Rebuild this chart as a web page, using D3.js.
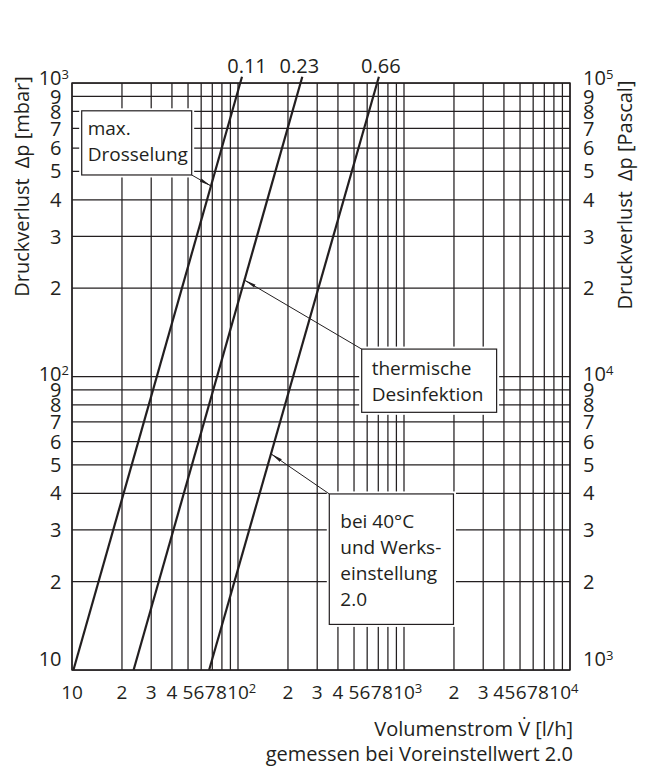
<!DOCTYPE html>
<html><head><meta charset="utf-8">
<script src="https://cdn.jsdelivr.net/npm/d3@7"></script>
<style>
html,body{margin:0;padding:0;background:#fff}
svg{display:block}
text{font-family:"Open Sans",sans-serif;fill:#231f20}
</style>
</head><body>
<svg id="chart" width="649" height="767"></svg>
<script>
// ---------- data ----------
const kvLabels = ["0.11", "0.23", "0.66"];
const flowAtLowDp = [10.2, 23.5, 67];      // l/h at 10 mbar
const flowAtHighDp = [105.7, 244, 706];    // l/h at 1050 mbar
const dpEnds = [10, 1050];                 // mbar

const xTickValues = [10,20,30,40,50,60,70,80,100,200,300,400,500,600,700,800,1000,2000,3000,4000,5000,6000,7000,8000,10000];
const xTickLabels = ["10","2","3","4","5","6","7","8","10^2","2","3","4","5","6","7","8","10^3","2","3","4","5","6","7","8","10^4"];
const yTickValues = [10,20,30,40,50,60,70,80,90,100,200,300,400,500,600,700,800,900,1000];
const yTickLabelsLeft = ["10","2","3","4","5","6","7","8","9","10^2","2","3","4","5","6","7","8","9","10^3"];
const yTickLabelsRight = ["10^3","2","3","4","5","6","7","8","9","10^4","2","3","4","5","6","7","8","9","10^5"];

const noteTexts = [["max.","Drosselung"],["thermische","Desinfektion"],["bei 40°C","und Werks-","einstellung","2.0"]];
const noteFlowLeftRight = [[11.44, 52.6],[556, 3614],[354.8, 1986]];
const noteDpTopBottom = [[804, 486],[124, 75.5],[39.8, 14.3]];
const noteCurveIndex = [0, 1, 2];
const noteTargetDp = [446, 213, 54.5];

const yTitleLeft = "Druckverlust\u2002Δp [mbar]";
const yTitleRight = "Druckverlust\u2002Δp [Pascal]";
const xTitle1 = "Volumenstrom V\u0307 [l/h]";
const xTitle2 = "gemessen bei Voreinstellwert 2.0";

// ---------- layout / style ----------
const L = 72, R = 570, T = 83, B = 670;
const ink = "#231f20";
const fs = 20;
const fsBottom = 19;
const fsNote = 19;
const notePad = [6, 10, 11];
const noteFirstBase = [24.5, 26, 34];
const noteLineH = 26;
const noteCorner = ["br", "tl", "tl"];
const kvLabelDx = [5, -3, 2];

const svg = d3.select("#chart");
svg.append("rect").attr("width", 649).attr("height", 767).attr("fill", "#fff");

const x = d3.scaleLog().domain([10, 1e4]).range([L, R]);
const y = d3.scaleLog().domain([10, 1e3]).range([B, T]);

// grid
const grid = svg.append("g").attr("stroke", ink).attr("stroke-width", 1.25);
grid.selectAll("line.v").data(x.ticks()).join("line")
  .attr("x1", d => x(d)).attr("x2", d => x(d)).attr("y1", T).attr("y2", B);
grid.selectAll("line.h").data(y.ticks()).join("line")
  .attr("y1", d => y(d)).attr("y2", d => y(d)).attr("x1", L).attr("x2", R);
svg.append("rect").attr("x", L).attr("y", T).attr("width", R - L).attr("height", B - T)
  .attr("fill", "none").attr("stroke", ink).attr("stroke-width", 1.4);

// curves
const curves = kvLabels.map((k, i) => [[flowAtLowDp[i], dpEnds[0]], [flowAtHighDp[i], dpEnds[1]]]);
const line = d3.line().x(d => x(d[0])).y(d => y(d[1]));
svg.append("g").selectAll("path").data(curves).join("path")
  .attr("d", line).attr("fill", "none").attr("stroke", ink).attr("stroke-width", 2.2);
svg.append("g").selectAll("text").data(kvLabels).join("text")
  .attr("x", (d, i) => x(flowAtHighDp[i]) + kvLabelDx[i])
  .attr("y", y(dpEnds[1]) - 3.5)
  .attr("text-anchor", "middle").attr("font-size", 20).text(d => d);

// label helper
function makeLabel(g, str, size) {
  const parts = str.split("^");
  const t = g.append("text").attr("font-size", size);
  const base = t.append("tspan").text(parts[0]);
  if (parts[1]) t.append("tspan").attr("font-size", 13).attr("dy", -6).text(parts[1]);
  return {t, baseW: base.node().getComputedTextLength()};
}
function shiftFor(v) { return v === 10 ? -11 : (v === 1000 ? -5 : (v === 100 ? -3 : 0)); }

// left axis labels
const gl = svg.append("g");
yTickValues.forEach((v, i) => {
  const {t, baseW} = makeLabel(gl, yTickLabelsLeft[i], fs);
  t.attr("x", 61.5 - baseW).attr("y", y(v) + shiftFor(v) + 0.357 * fs);
});
// right axis labels
const gr = svg.append("g");
yTickValues.forEach((v, i) => {
  const {t} = makeLabel(gr, yTickLabelsRight[i], fs);
  t.attr("x", 583).attr("y", y(v) + shiftFor(v) + 0.357 * fs);
});
// bottom labels
const gb = svg.append("g");
const bl = xTickValues.map((v, i) => {
  const {t, baseW} = makeLabel(gb, xTickLabels[i], fsBottom);
  t.attr("y", 699);
  const x0 = x(v) - baseW / 2;
  t.attr("x", x0);
  const w = t.node().getBBox().width;
  return {t, x0, w};
});
// last label ends just past the plot edge; sweep leftwards to avoid overlaps
const last = bl[bl.length - 1];
last.x0 = Math.min(last.x0, R + 9 - last.w);
for (let i = bl.length - 2; i >= 0; i--) {
  const maxRight = bl[i + 1].x0 - 0.3;
  if (bl[i].x0 + bl[i].w > maxRight) bl[i].x0 = maxRight - bl[i].w;
}
bl.forEach(b => b.t.attr("x", b.x0));

// axis titles
svg.append("text").attr("transform", `translate(29,${(T + 298) / 2 - 4}) rotate(-90)`)
  .attr("text-anchor", "middle").attr("font-size", fs).text(yTitleLeft);
svg.append("text").attr("transform", `translate(632,${(T + 307) / 2}) rotate(-90)`)
  .attr("text-anchor", "middle").attr("font-size", fs).text(yTitleRight);
svg.append("text").attr("x", 573).attr("y", 736).attr("text-anchor", "end").attr("font-size", fs).text(xTitle1);
svg.append("text").attr("x", 573).attr("y", 761).attr("text-anchor", "end").attr("font-size", fs).text(xTitle2);

// arrow marker
svg.append("defs").append("marker").attr("id", "arr")
  .attr("viewBox", "0 -3 12 6").attr("refX", 12).attr("refY", 0)
  .attr("markerWidth", 12).attr("markerHeight", 6).attr("markerUnits", "userSpaceOnUse")
  .attr("orient", "auto")
  .append("path").attr("d", "M0,-1.6L12,0L0,1.6Z").attr("fill", ink);

// notes
function pointOnCurve(ci, dp) {
  const t = (Math.log10(dp) - Math.log10(dpEnds[0])) / (Math.log10(dpEnds[1]) - Math.log10(dpEnds[0]));
  const lv = Math.log10(flowAtLowDp[ci]) + t * (Math.log10(flowAtHighDp[ci]) - Math.log10(flowAtLowDp[ci]));
  return [x(Math.pow(10, lv)), y(dp)];
}
const gn = svg.append("g");
noteTexts.forEach((lines, i) => {
  const x0 = x(noteFlowLeftRight[i][0]), x1 = x(noteFlowLeftRight[i][1]);
  const y0 = y(noteDpTopBottom[i][0]), y1 = y(noteDpTopBottom[i][1]);
  gn.append("rect").attr("x", x0).attr("y", y0).attr("width", x1 - x0).attr("height", y1 - y0)
    .attr("fill", "#fff").attr("stroke", "#fff").attr("stroke-width", 5);
  gn.append("rect").attr("x", x0).attr("y", y0).attr("width", x1 - x0).attr("height", y1 - y0)
    .attr("fill", "#fff").attr("stroke", ink).attr("stroke-width", 1.2);
  lines.forEach((s, j) => {
    gn.append("text").attr("x", x0 + notePad[i]).attr("y", y0 + noteFirstBase[i] + j * noteLineH)
      .attr("font-size", fsNote).text(s);
  });
  const start = noteCorner[i] === "br" ? [x1, y1] : [x0, y0];
  const end = pointOnCurve(noteCurveIndex[i], noteTargetDp[i]);
  gn.append("line").attr("x1", start[0]).attr("y1", start[1]).attr("x2", end[0]).attr("y2", end[1])
    .attr("stroke", ink).attr("stroke-width", 1).attr("marker-end", "url(#arr)");
});
</script>
</body></html>
